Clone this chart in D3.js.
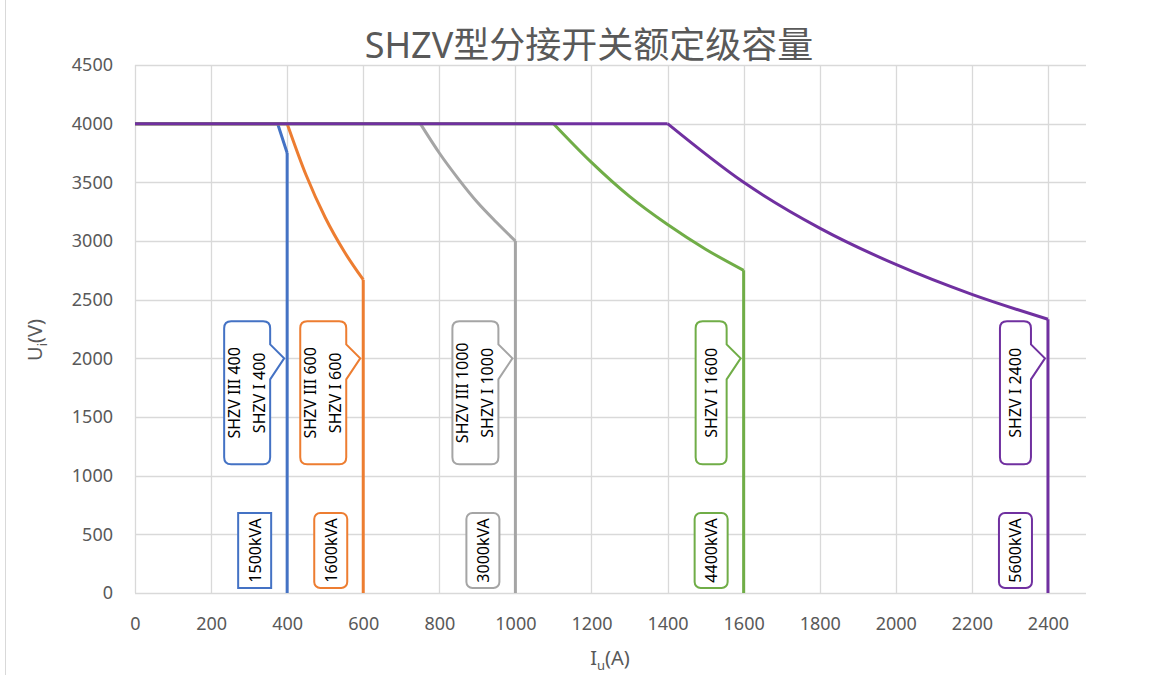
<!DOCTYPE html>
<html>
<head>
<meta charset="utf-8">
<script src="https://cdn.jsdelivr.net/npm/d3@7"></script>
<style>
  body { margin: 0; background: #fff; }
  text { font-family: "Noto Sans", "Noto Sans CJK SC", sans-serif; }
</style>
</head>
<body>
<svg id="chart"></svg>
<script>
// data
const seriesNames = ["400", "600", "1000", "1600", "2400"];
const colors = ["#4472C4", "#ED7D31", "#A5A5A5", "#70AD47", "#7030A0"];
// curve points [I, U], from where the line leaves 4000 V to the max current
const curve400 = [[0, 4000], [375, 4000], [400, 3750]];
const curve600 = [[400, 4000], [450, 3560], [500, 3200], [550, 2910], [600, 2670]];
const curve1000 = [[750, 4000], [800, 3750], [850, 3530], [900, 3330], [950, 3160], [1000, 3000]];
const curve1600 = [[1100, 4000], [1200, 3670], [1300, 3380], [1400, 3140], [1500, 2930], [1600, 2750]];
const curve2400 = [[1400, 4000], [1600, 3500], [1800, 3110], [2000, 2800], [2200, 2545], [2400, 2333]];
const curves = [curve400, curve600, curve1000, curve1600, curve2400];
const maxCurrent = [400, 600, 1000, 1600, 2400];
const calloutLines = [
  ["SHZV III 400", "SHZV I 400"],
  ["SHZV III 600", "SHZV I 600"],
  ["SHZV III 1000", "SHZV I 1000"],
  ["SHZV I 1600"],
  ["SHZV I 2400"]
];
const powerLabels = ["1500kVA", "1600kVA", "3000kVA", "4400kVA", "5600kVA"];
const xTicks = [0, 200, 400, 600, 800, 1000, 1200, 1400, 1600, 1800, 2000, 2200, 2400];
const yTicks = [0, 500, 1000, 1500, 2000, 2500, 3000, 3500, 4000, 4500];

const W = 1157, H = 675;
const margin = { top: 65, right: 71, bottom: 82, left: 135 };
const textColor = "#595959";

const svg = d3.select("#chart").attr("width", W).attr("height", H);

// chart border
svg.append("line").attr("x1", 5.5).attr("x2", 5.5).attr("y1", 0).attr("y2", H)
  .attr("stroke", "#D9D9D9").attr("stroke-width", 1);

const x = d3.scaleLinear().domain([0, 2500]).range([margin.left, W - margin.right]);
const y = d3.scaleLinear().domain([0, 4500]).range([H - margin.bottom, margin.top]);

// gridlines
svg.append("g").selectAll("line").data(yTicks).enter().append("line")
  .attr("x1", x(0)).attr("x2", x(2500))
  .attr("y1", d => Math.round(y(d)) + 0.5).attr("y2", d => Math.round(y(d)) + 0.5)
  .attr("stroke", "#D9D9D9").attr("stroke-width", 1.3);
svg.append("g").selectAll("line").data(xTicks).enter().append("line")
  .attr("x1", d => Math.round(x(d)) + 0.5).attr("x2", d => Math.round(x(d)) + 0.5)
  .attr("y1", y(0)).attr("y2", y(4500))
  .attr("stroke", "#D9D9D9").attr("stroke-width", 1.3);

// axes (labels only, Excel style)
const yAxis = svg.append("g").attr("transform", `translate(${margin.left - 12},0)`)
  .call(d3.axisLeft(y).tickValues(yTicks).tickFormat(d3.format("d")).tickSize(0).tickPadding(10));
const xAxis = svg.append("g").attr("transform", `translate(0,${y(0) + 22})`)
  .call(d3.axisBottom(x).tickValues(xTicks).tickFormat(d3.format("d")).tickSize(0).tickPadding(10));
[xAxis, yAxis].forEach(g => {
  g.select(".domain").remove();
  g.selectAll("text").attr("fill", textColor).style("font-size", "18px")
    .style("font-family", "'Noto Sans', sans-serif");
});
xAxis.selectAll("text").attr("dy", "0.3em");

// title
svg.append("text").attr("x", 589).attr("y", 58).attr("text-anchor", "middle")
  .attr("fill", textColor).style("font-size", "36px").text("SHZV型分接开关额定级容量");

// axis titles
const yl = svg.append("text").attr("transform", "translate(42,340) rotate(-90)")
  .attr("text-anchor", "middle").attr("fill", textColor).style("font-size", "20px");
yl.append("tspan").text("U");
yl.append("tspan").attr("dy", 5).style("font-size", "13px").text("i");
yl.append("tspan").attr("dy", -5).text("(V)");
const xl = svg.append("text").attr("x", 610).attr("y", 665)
  .attr("text-anchor", "middle").attr("fill", textColor).style("font-size", "20px");
xl.append("tspan").text("I");
xl.append("tspan").attr("dy", 5).style("font-size", "13px").text("u");
xl.append("tspan").attr("dy", -5).text("(A)");

const flatLine = d3.line().x(d => x(d[0])).y(d => y(d[1]));
const smoothLine = d3.line().x(d => x(d[0])).y(d => y(d[1])).curve(d3.curveMonotoneX);

curves.forEach((pts, i) => {
  const c = colors[i];
  const g = svg.append("g");
  const start = pts[0];
  const last = pts[pts.length - 1];
  // flat 4000 V part
  g.append("path").attr("d", flatLine([[0, 4000], start]))
    .attr("fill", "none").attr("stroke", c).attr("stroke-width", 3);
  // descending part
  g.append("path").attr("d", i === 0 ? flatLine(pts) : smoothLine(pts))
    .attr("fill", "none").attr("stroke", c).attr("stroke-width", 3)
    .attr("stroke-linejoin", "round");
  // drop to zero at max current
  g.append("path").attr("d", flatLine([last, [maxCurrent[i], 0]]))
    .attr("fill", "none").attr("stroke", c).attr("stroke-width", 3);
});

// callouts pointing at (Imax, 2000)
curves.forEach((pts, i) => {
  const c = colors[i];
  const lineX = x(maxCurrent[i]);
  const tipX = lineX - 3, tipY = y(2000);
  const lines = calloutLines[i];
  const r = lineX - 17;
  const w = lines.length === 2 ? 46 : 31;
  const l = r - w, t = tipY - 37, b = tipY + 106, rad = 7;
  const p1 = tipY - 14, p2 = tipY + 21;
  const d = `M${l + rad},${t} H${r - rad} Q${r},${t} ${r},${t + rad} V${p1} L${tipX},${tipY} L${r},${p2} ` +
    `V${b - rad} Q${r},${b} ${r - rad},${b} H${l + rad} Q${l},${b} ${l},${b - rad} V${t + rad} Q${l},${t} ${l + rad},${t} Z`;
  svg.append("path").attr("d", d).attr("fill", "#fff").attr("stroke", c).attr("stroke-width", 2);
  const cy = (t + b) / 2;
  lines.forEach((s, k) => {
    const cx = lines.length === 2 ? l + 10 + k * 25 : l + w / 2;
    svg.append("text").attr("transform", `translate(${cx + 6},${cy}) rotate(-90)`)
      .attr("text-anchor", "middle").attr("fill", "#000").style("font-size", "16px").text(s);
  });

  // power label box near the bottom
  const br = lineX - 16, bw = 33, bt = y(0) - 80, bh = 75;
  svg.append("rect").attr("x", br - bw).attr("y", bt).attr("width", bw).attr("height", bh)
    .attr("rx", i === 0 ? 0 : 6).attr("fill", "#fff").attr("stroke", c).attr("stroke-width", 2);
  svg.append("text").attr("transform", `translate(${br - bw / 2 + 6},${bt + bh / 2}) rotate(-90)`)
    .attr("text-anchor", "middle").attr("fill", "#000").style("font-size", "16px").text(powerLabels[i]);
});
</script>
</body>
</html>
